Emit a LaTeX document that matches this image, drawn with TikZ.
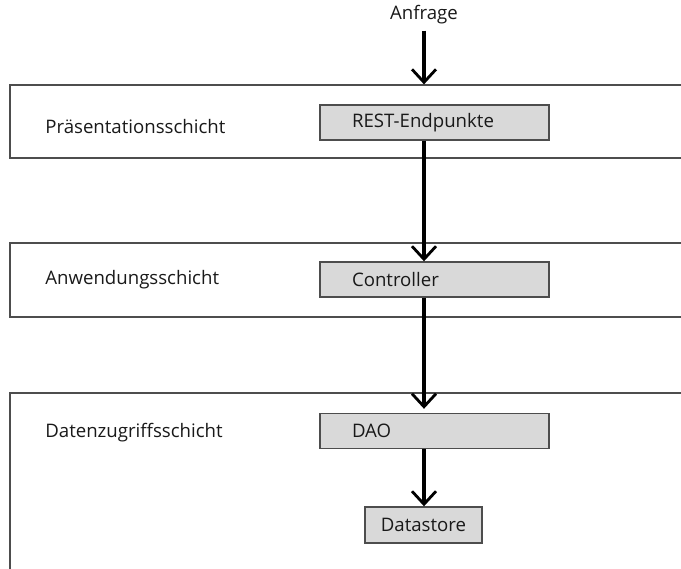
\documentclass[tikz,border=0pt]{standalone}
\usepackage{fontspec}
\setmainfont{Open Sans}
\usepackage{xcolor}
\usetikzlibrary{positioning}
\usetikzlibrary{arrows.meta}
\definecolor{boxgray}{HTML}{D9D9D9}
\definecolor{linegray}{HTML}{4D4D4D}
\tikzstyle{layer} = [rectangle, draw=linegray, line width=0.7pt, minimum width=13.8cm, inner sep=0pt]
\tikzstyle{comp} = [rectangle, draw=linegray, line width=0.8pt, fill=boxgray, minimum height=0.7cm, text width=3.3cm, inner xsep=0.64cm, align=left]
\tikzstyle{store} = [rectangle, draw=linegray, line width=0.8pt, fill=boxgray, minimum height=0.72cm, minimum width=2.34cm]
\tikzstyle{lbl} = [anchor=west, inner sep=0pt]
\tikzstyle{arrow} = [line width=1.8pt, -{Straight Barb[length=2.6mm, width=4.8mm, line width=1.6pt]}]

\begin{document}
\begin{tikzpicture}[font=\fontsize{10.6}{12}\selectfont, text=black!90]
      \useasboundingbox (0,0) rectangle (13.62,11.36);
      %%%%%%%%%%%%%%%%%%%%%%%%%%%%%%%%%%%%%%%
      % Schichten
      \draw (7.1,8.93) node (lay1) [layer, minimum height=1.46cm] {};
      \draw (7.1,5.76) node (lay2) [layer, minimum height=1.48cm] {};
      \draw (7.1,1.5) node (lay3) [layer, minimum height=4cm] {};
      \draw (0.9,8.82) node (l1) [lbl] {Präsentationsschicht};
      \draw (0.9,5.76) node (l2) [lbl] {Anwendungsschicht};
      \draw (0.9,2.7) node (l3) [lbl] {Datenzugriffsschicht};
      %%%%%%%%%%%%%%%%%%%%%%%%%%%%%%%%%%%%%%%
      % Komponenten
      \draw (8.48,11.06) node (req) {Anfrage};
      \draw (8.69,8.91) node (rest) [comp] {REST-Endpunkte};
      \draw (8.69,5.77) node (ctrl) [comp] {Controller};
      \draw (8.69,2.74) node (dao) [comp] {DAO};
      \draw (8.47,0.86) node (ds) [store] {Datastore};
      %%%%%%%%%%%%%%%%%%%%%%%%%%%%%%%%%%%%%%%
      \draw[arrow] (req) -- (req |- lay1.north);
      \draw[arrow] (req |- rest.south) -- (req |- ctrl.north);
      \draw[arrow] (req |- ctrl.south) -- ([yshift=0.08cm]req |- dao.north);
      \draw[arrow] (req |- dao.south) -- (req |- ds.north);
\end{tikzpicture}
\end{document}
